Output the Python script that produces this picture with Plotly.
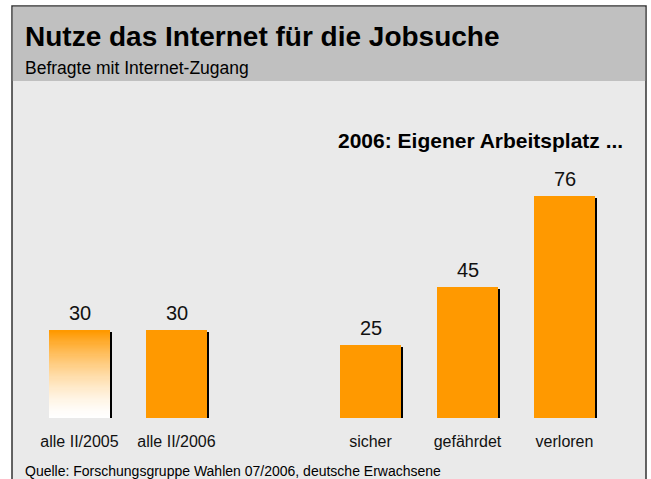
import plotly.graph_objects as go

# ---- data ----
categories = ["alle II/2005", "alle II/2006", "sicher", "gefährdet", "verloren"]
positions = [0, 1, 3, 4, 5]
values = [30, 30, 25, 45, 76]
gradient_flags = [True, False, False, False, False]

title = "Nutze das Internet für die Jobsuche"
subtitle = "Befragte mit Internet-Zugang"
group_title = "2006: Eigener Arbeitsplatz ..."
source = "Quelle: Forschungsgruppe Wahlen 07/2006, deutsche Erwachsene"

# ---- geometry ----
W, H = 651, 479
X_RANGE = [-0.5, 5.5]
Y_RANGE = [0, 100]
plot_left, plot_right = 31, 613
plot_bottom, plot_top = 418, 126
px_per_x = (plot_right - plot_left) / (X_RANGE[1] - X_RANGE[0])
px_per_y = (plot_bottom - plot_top) / (Y_RANGE[1] - Y_RANGE[0])
BAR_W = 0.63
ORANGE = (255, 153, 0)
FONT = "Arial, Liberation Sans, sans-serif"

def px(x):
    return x / W

def py(y):
    return 1 - y / H

fig = go.Figure()

# shadows
sx = 2 / px_per_x
sy = 2 / px_per_y
fig.add_trace(go.Bar(
    x=[p + sx for p in positions], y=values, base=[-sy] * len(values),
    width=BAR_W, marker=dict(color="black", line=dict(width=0)),
    hoverinfo="skip", showlegend=False))

# solid bars
solid_x = [p for p, g in zip(positions, gradient_flags) if not g]
solid_v = [v for v, g in zip(values, gradient_flags) if not g]
fig.add_trace(go.Bar(
    x=solid_x, y=solid_v, width=BAR_W,
    marker=dict(color="rgb(255,153,0)", line=dict(width=0)),
    showlegend=False))

# gradient bars (orange at top fading to white at bottom)
N = 80
for p, v, g in zip(positions, values, gradient_flags):
    if not g:
        continue
    for i in range(N, 0, -1):
        frac = i / N
        t = frac ** 1.5
        col = tuple(round(255 + (c - 255) * t) for c in ORANGE)
        fig.add_trace(go.Bar(
            x=[p], y=[v * frac], width=BAR_W,
            marker=dict(color="rgb(%d,%d,%d)" % col, line=dict(width=0)),
            hoverinfo="skip", showlegend=False))

# value labels
for p, v in zip(positions, values):
    fig.add_annotation(x=p, y=v, xref="x", yref="y", text=str(v),
                       showarrow=False, yanchor="bottom", yshift=4,
                       font=dict(family=FONT, size=20, color="#111111"))

# frame and header
shapes = [
    dict(type="rect", xref="paper", yref="paper", x0=px(12), x1=px(646), y0=py(485), y1=py(6),
         fillcolor="#eaeaea", line=dict(color="#333333", width=1.5), layer="below"),
    dict(type="rect", xref="paper", yref="paper", x0=px(12.8), x1=px(645.2), y0=py(81), y1=py(6.8),
         fillcolor="#c0c0c0", line=dict(width=0), layer="below"),
]

annotations = [
    dict(x=px(23), y=py(36.5), xref="paper", yref="paper", text="<b>%s</b>" % title,
         showarrow=False, xanchor="left", yanchor="middle",
         font=dict(family=FONT, size=28, color="black")),
    dict(x=px(23), y=py(68.5), xref="paper", yref="paper", text=subtitle,
         showarrow=False, xanchor="left", yanchor="middle",
         font=dict(family=FONT, size=17.5, color="black")),
    dict(x=px(625), y=py(140), xref="paper", yref="paper", text="<b>%s</b>" % group_title,
         showarrow=False, xanchor="right", yanchor="middle",
         font=dict(family=FONT, size=21, color="black")),
    dict(x=px(23), y=py(471), xref="paper", yref="paper", text=source,
         showarrow=False, xanchor="left", yanchor="middle",
         font=dict(family=FONT, size=14, color="black")),
]
for a in annotations:
    fig.add_annotation(**a)

fig.update_layout(
    width=W, height=H, autosize=False,
    margin=dict(l=0, r=0, t=0, b=0),
    paper_bgcolor="white", plot_bgcolor="rgba(0,0,0,0)",
    barmode="overlay", bargap=0,
    shapes=shapes,
    xaxis=dict(domain=[px(plot_left), px(plot_right)], range=X_RANGE,
               tickvals=positions, ticktext=categories, ticks="",
               showgrid=False, zeroline=False, showline=False,
               ticklabelstandoff=12,
               tickfont=dict(family=FONT, size=16, color="#111111")),
    yaxis=dict(domain=[py(plot_bottom), py(plot_top)], range=Y_RANGE,
               visible=False, showgrid=False, zeroline=False),
    showlegend=False,
    hovermode=False,
)

fig.write_html("out.html",
               config={"displayModeBar": False, "staticPlot": True},
               post_script="document.body.style.margin='0';document.body.style.padding='0';")
